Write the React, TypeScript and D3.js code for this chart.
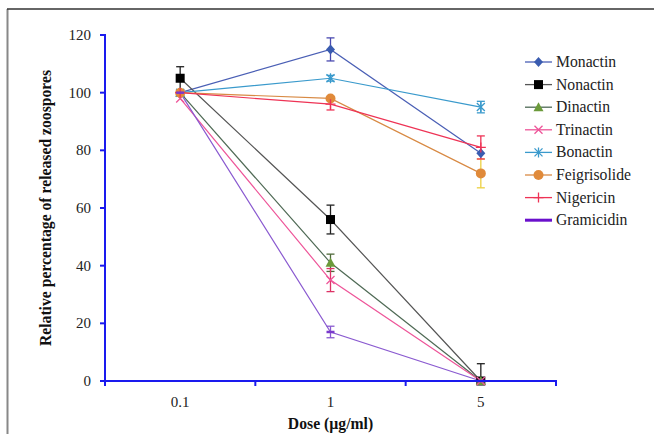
import * as d3 from 'd3';
import React from 'react';

const width = 654;
const height = 434;
const margin = { top: 35, right: 98, bottom: 53, left: 105 };
const axisBlue = '#1a1aee';
const font = "'Times New Roman', 'Liberation Serif', serif";

// doses on the x axis (categories)
const doses = ['0.1', '1', '5'];
const yTicks = [0, 20, 40, 60, 80, 100, 120];

// relative percentage of released zoospores, one value per dose
const monactin = [100, 115, 79];
const nonactin = [105, 56, 0];
const dinactin = [100, 41, 0];
const trinactin = [98, 35, 0];
const bonactin = [100, 105, 95];
const feigrisolide = [100, 98, 72];
const nigericin = [100, 96, 81];
const gramicidin = [100, 17, 0];

// error bar half lengths
const monactinErr = [0, 4, 0];
const nonactinErr = [4, 5, 6];
const dinactinErr = [0, 3, 0];
const trinactinErr = [0, 4, 0];
const bonactinErr = [0, 1, 2];
const feigrisolideErr = [0, 0, 5];
const nigericinErr = [0, 2, 4];
const gramicidinErr = [0, 2, 0];

type Marker = 'diamond' | 'square' | 'triangle' | 'x' | 'asterisk' | 'circle' | 'plus' | 'dash';

const series = [
  { name: 'Monactin', values: monactin, err: monactinErr, line: '#4a5fb5', fill: '#3a5cb0', errColor: '#4a4ab0', marker: 'diamond' as Marker },
  { name: 'Nonactin', values: nonactin, err: nonactinErr, line: '#555555', fill: '#000000', errColor: '#222222', marker: 'square' as Marker },
  { name: 'Dinactin', values: dinactin, err: dinactinErr, line: '#4f6a55', fill: '#6b9a3a', errColor: '#4f6a3a', marker: 'triangle' as Marker },
  { name: 'Trinactin', values: trinactin, err: trinactinErr, line: '#ee5599', fill: '#ee5599', errColor: '#dd3366', marker: 'x' as Marker },
  { name: 'Bonactin', values: bonactin, err: bonactinErr, line: '#3a9acc', fill: '#3a9acc', errColor: '#3a9acc', marker: 'asterisk' as Marker },
  { name: 'Feigrisolide', values: feigrisolide, err: feigrisolideErr, line: '#d88a44', fill: '#e08a3a', errColor: '#ecd040', marker: 'circle' as Marker },
  { name: 'Nigericin', values: nigericin, err: nigericinErr, line: '#ee3355', fill: '#ee3355', errColor: '#ee3355', marker: 'plus' as Marker },
  { name: 'Gramicidin', values: gramicidin, err: gramicidinErr, line: '#8a5ad0', fill: '#7a3acc', errColor: '#8a5ad0', marker: 'dash' as Marker }
];

const xScale = d3
  .scaleBand<string>()
  .domain(doses)
  .range([margin.left, width - margin.right]);
const yScale = d3
  .scaleLinear()
  .domain([0, 120])
  .range([height - margin.bottom, margin.top]);

const cx = (d: string) => (xScale(d) as number) + xScale.bandwidth() / 2;

function MarkerShape({ kind, x, y, color }: { kind: Marker; x: number; y: number; color: string }) {
  switch (kind) {
    case 'diamond':
      return <path d={`M${x},${y - 5}L${x + 4.5},${y}L${x},${y + 5}L${x - 4.5},${y}Z`} fill={color} />;
    case 'square':
      return <rect x={x - 4.5} y={y - 4.5} width={9} height={9} fill={color} />;
    case 'triangle':
      return <path d={`M${x},${y - 5}L${x + 5},${y + 4}L${x - 5},${y + 4}Z`} fill={color} />;
    case 'x':
      return <path d={`M${x - 4},${y - 4}L${x + 4},${y + 4}M${x - 4},${y + 4}L${x + 4},${y - 4}`} stroke={color} strokeWidth={1.3} />;
    case 'asterisk':
      return (
        <path
          d={`M${x - 4},${y - 4}L${x + 4},${y + 4}M${x - 4},${y + 4}L${x + 4},${y - 4}M${x},${y - 5}L${x},${y + 5}`}
          stroke={color}
          strokeWidth={1.3}
        />
      );
    case 'circle':
      return <circle cx={x} cy={y} r={5} fill={color} />;
    case 'plus':
      return <path d={`M${x - 5},${y}L${x + 5},${y}M${x},${y - 5}L${x},${y + 5}`} stroke={color} strokeWidth={1.3} />;
    case 'dash':
      return <path d={`M${x - 4},${y}L${x + 4},${y}`} stroke={color} strokeWidth={2.5} />;
  }
}

export default function App() {
  const line = d3
    .line<number>()
    .x((_, i) => cx(doses[i]))
    .y(d => yScale(d));
  const x0 = margin.left;
  const x1 = width - margin.right;
  const y0 = height - margin.bottom;
  const edges = [...doses.map(d => xScale(d) as number), x1];
  const legendX = 525;
  const legendY = 62;
  const legendStep = 22.6;

  return (
    <svg
      width={width}
      height={height}
      style={{ position: 'absolute', left: 0, top: 0, background: '#fff', fontFamily: font }}
    >
      <defs>
        <clipPath id="plot">
          <rect x={x0} y={0} width={x1 - x0} height={y0} />
        </clipPath>
      </defs>

      {/* frame */}
      <line x1={7.5} y1={9} x2={7.5} y2={height} stroke="#888" strokeWidth={2} />
      <line x1={7} y1={9} x2={width} y2={9} stroke="#333" strokeWidth={1.5} />

      {/* series lines */}
      {series.map(s => (
        <path key={s.name + 'l'} d={line(s.values) || ''} fill="none" stroke={s.line} strokeWidth={1.2} />
      ))}

      {/* error bars */}
      <g clipPath="url(#plot)">
        {series.map(s =>
          s.values.map((v, i) =>
            s.err[i] > 0 ? (
              <g key={s.name + 'e' + i} stroke={s.errColor} strokeWidth={1.3}>
                <line x1={cx(doses[i])} x2={cx(doses[i])} y1={yScale(v + s.err[i])} y2={yScale(v - s.err[i])} />
                <line x1={cx(doses[i]) - 4} x2={cx(doses[i]) + 4} y1={yScale(v + s.err[i])} y2={yScale(v + s.err[i])} />
                <line x1={cx(doses[i]) - 4} x2={cx(doses[i]) + 4} y1={yScale(v - s.err[i])} y2={yScale(v - s.err[i])} />
              </g>
            ) : null
          )
        )}
      </g>

      {/* markers */}
      {series.map(s =>
        s.values.map((v, i) => (
          <MarkerShape key={s.name + 'm' + i} kind={s.marker} x={cx(doses[i])} y={yScale(v)} color={s.fill} />
        ))
      )}

      {/* axes */}
      <g stroke={axisBlue} strokeWidth={2}>
        <line x1={x0} y1={margin.top - 1} x2={x0} y2={y0 + 1} />
        <line x1={x0 - 1} y1={y0} x2={x1 + 1} y2={y0} />
        {yTicks.map(t => (
          <line key={'yt' + t} x1={x0 - 5} x2={x0} y1={yScale(t)} y2={yScale(t)} />
        ))}
        {edges.map((e, i) => (
          <line key={'xt' + i} x1={e} x2={e} y1={y0 - 1} y2={y0 + 5} />
        ))}
      </g>
      {yTicks.map(t => (
        <text key={'yl' + t} x={91} y={yScale(t) + 5} textAnchor="end" fontSize={15} fill="#222">
          {t}
        </text>
      ))}
      {doses.map(d => (
        <text key={'xl' + d} x={cx(d)} y={407} textAnchor="middle" fontSize={15} fill="#222">
          {d}
        </text>
      ))}

      {/* axis titles */}
      <text
        transform={`translate(51, ${(margin.top + y0) / 2}) rotate(-90)`}
        textAnchor="middle"
        fontSize={15.7}
        fontWeight="bold"
        fill="#111"
      >
        Relative percentage of released zoospores
      </text>
      <text x={cx('1')} y={429} textAnchor="middle" fontSize={15.7} fontWeight="bold" fill="#111">
        Dose (µg/ml)
      </text>

      {/* legend */}
      {series.map((s, i) => {
        const ly = legendY + i * legendStep;
        return (
          <g key={s.name + 'lg'}>
            <line
              x1={legendX}
              x2={legendX + 27}
              y1={ly}
              y2={ly}
              stroke={s.marker === 'dash' ? '#6a10cc' : s.line}
              strokeWidth={s.marker === 'dash' ? 3 : 1.3}
            />
            {s.marker !== 'dash' && <MarkerShape kind={s.marker} x={legendX + 13.5} y={ly} color={s.fill} />}
            <text x={legendX + 31} y={ly + 5} fontSize={15.7} fill="#222">
              {s.name}
            </text>
          </g>
        );
      })}
    </svg>
  );
}
